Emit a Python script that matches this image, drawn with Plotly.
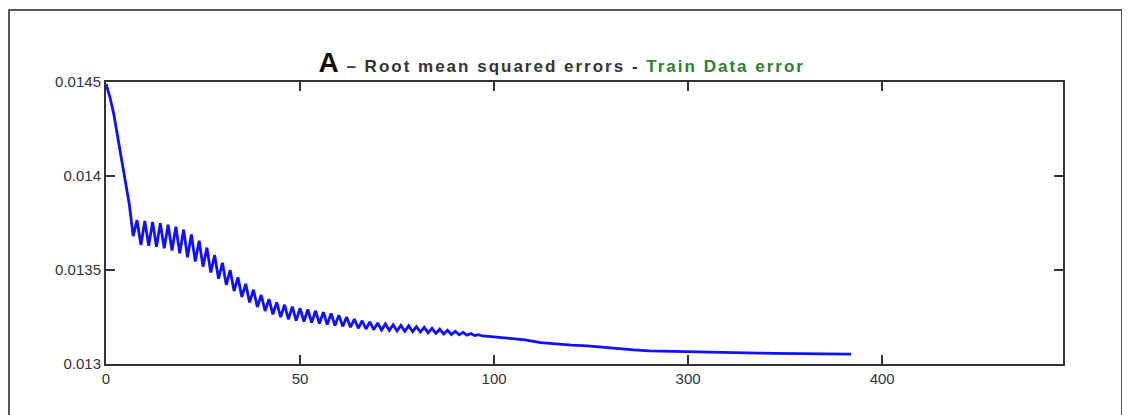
import plotly.graph_objects as go

# epochs (x) and RMSE values (y)
epochs = list(range(0, 101)) + [104, 108, 112, 116, 120, 124, 128, 132, 136, 140, 144, 148,
                                 152, 156, 160, 164, 168, 172, 176, 180, 184, 188, 192]
rmse = [
    0.014490, 0.014420, 0.014330, 0.014210, 0.014110, 0.013990, 0.013850, 0.013680,
    0.013765, 0.013633, 0.013761, 0.013629, 0.013756, 0.013623, 0.013749, 0.013615,
    0.013741, 0.013604, 0.013730, 0.013589, 0.013715, 0.013568, 0.013689, 0.013545,
    0.013656, 0.013518, 0.013619, 0.013487, 0.013579, 0.013454, 0.013538, 0.013421,
    0.013499, 0.013388, 0.013461, 0.013357, 0.013426, 0.013328, 0.013395, 0.013303,
    0.013367, 0.013282, 0.013345, 0.013264, 0.013328, 0.013249, 0.013315, 0.013238,
    0.013305, 0.013231, 0.013297, 0.013225, 0.013290, 0.013220, 0.013283, 0.013215,
    0.013276, 0.013210, 0.013269, 0.013205, 0.013260, 0.013200, 0.013250, 0.013196,
    0.013239, 0.013190, 0.013230, 0.013186, 0.013224, 0.013183, 0.013218, 0.013181,
    0.013213, 0.013179, 0.013209, 0.013176, 0.013205, 0.013174, 0.013203, 0.013172,
    0.013199, 0.013170, 0.013195, 0.013166, 0.013190, 0.013163, 0.013185, 0.013160,
    0.013180, 0.013157, 0.013174, 0.013155, 0.013168, 0.013153, 0.013162, 0.013151,
    0.013156, 0.013149, 0.013148, 0.013146, 0.013144,
    0.013136, 0.013128, 0.013114, 0.013105, 0.013100, 0.013096, 0.013088, 0.013080,
    0.013075, 0.013070, 0.013068, 0.013066, 0.013063, 0.013061, 0.013060, 0.013059,
    0.013058, 0.013057, 0.013056, 0.013055, 0.013053, 0.013052, 0.013052,
]

x_tickvals = [0, 50, 100, 150, 200]
x_ticktext = ["0", "50", "100", "300", "400"]
y_tickvals = [0.013, 0.0135, 0.014, 0.0145]
y_ticktext = ["0.013", "0.0135", "0.014", "0.0145"]

title_html = ("<b><span style='font-size:28px;color:#111;letter-spacing:1px'>A</span>"
              "<span style='color:#333;letter-spacing:2px'> – Root mean squared errors - </span>"
              "<span style='color:#2e7d32;letter-spacing:2px'>Train Data error</span></b>")

fig = go.Figure()
fig.add_trace(go.Scatter(x=epochs, y=rmse, mode="lines",
                         line=dict(color="#1010ff", width=2.8), showlegend=False))

axis_common = dict(showgrid=False, zeroline=False, showline=True, linecolor="#333",
                   linewidth=2, mirror="ticks", ticks="inside", tickcolor="#333",
                   tickwidth=2, ticklen=9,
                   tickfont=dict(family="Liberation Sans, Arial", size=15, color="#333"))

fig.update_xaxes(range=[0, 246.6], tickvals=x_tickvals, ticktext=x_ticktext, **axis_common)
fig.update_yaxes(range=[0.013, 0.0145], tickvals=y_tickvals, ticktext=y_ticktext, **axis_common)

fig.add_shape(type="rect", xref="paper", yref="paper",
              x0=(9 - 106) / 957, x1=(1122 - 106) / 957, y0=-0.4, y1=(364 - 10) / 282,
              line=dict(color="#222", width=1.5), layer="below")

fig.update_layout(
    width=1130, height=415,
    margin=dict(l=98, r=75, t=74, b=59),
    paper_bgcolor="white", plot_bgcolor="white",
    title=dict(text=title_html, xref="container", x=0.49, xanchor="center",
               yref="container", y=1 - 58 / 415, yanchor="middle",
               font=dict(family="Liberation Sans, Arial", size=17)),
)

fig.write_html("out.html")
